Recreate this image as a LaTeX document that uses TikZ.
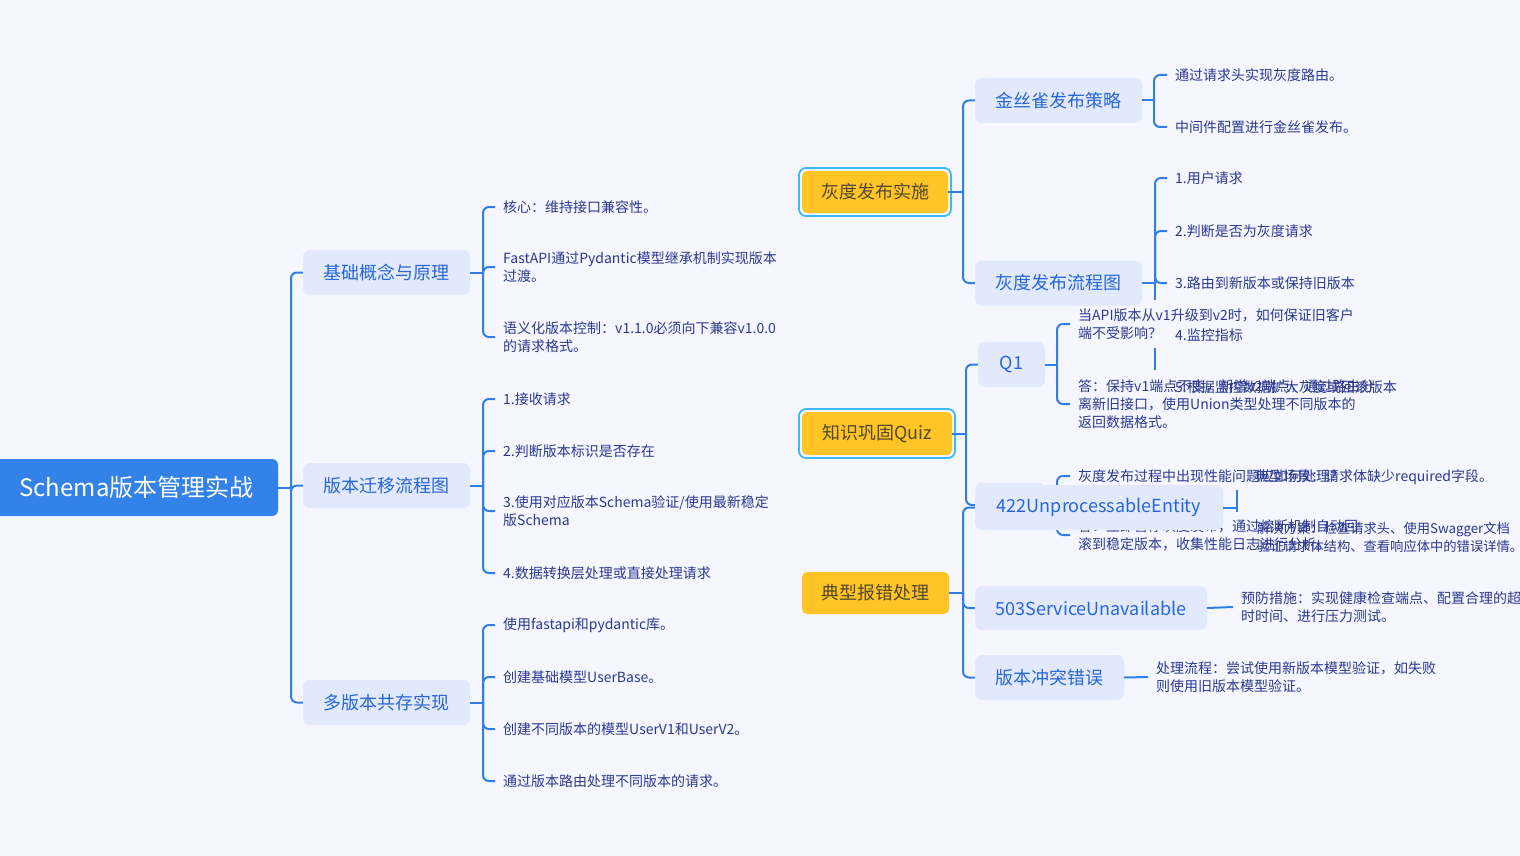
\documentclass[tikz,border=0pt]{standalone}
\usepackage{fontspec}
\setmainfont{Noto Sans CJK SC}
\definecolor{bg}{HTML}{F5F6FE}
\definecolor{conn}{HTML}{2F7FE8}
\definecolor{rootc}{HTML}{3282EA}
\definecolor{lone}{HTML}{E2E9FC}
\definecolor{lonetext}{HTML}{2766D6}
\definecolor{leaftext}{HTML}{2B3990}
\definecolor{yel}{HTML}{FFC527}
\definecolor{yeltext}{HTML}{54472B}
\definecolor{selc}{HTML}{3DBAF5}
\tikzset{
 line/.style={draw=conn, line width=2pt},
 bline/.style={line, rounded corners=6pt},
 rootbox/.style={fill=rootc, text=white, rounded corners=6pt, minimum width=283pt, minimum height=57pt, font=\fontsize{24}{28}\selectfont, inner sep=0pt},
 lbox/.style={fill=lone, text=lonetext, rounded corners=7pt, minimum height=45pt, inner sep=0pt, font=\fontsize{18}{22}\selectfont},
 ybox/.style={fill=yel, text=yeltext, rounded corners=5pt, minimum height=42pt, inner sep=0pt, font=\fontsize{18}{22}\selectfont},
 ring/.style={draw=selc, line width=1.8pt, rounded corners=7pt},
 leaf/.style={anchor=west, text=leaftext, font=\fontsize{14}{18}\selectfont, align=left, inner xsep=8pt, inner ysep=1pt},
}
\begin{document}
\begin{tikzpicture}[x=1pt,y=-1pt]
\useasboundingbox (0,0) rectangle (1520,856);
\clip (0,0) rectangle (1520,856);
\fill[bg] (0,0) rectangle (1520,856);

% ---------- left side ----------
\node[rootbox] (root) at (136.5,487.5) {Schema版本管理实战};
\node[lbox, minimum width=167pt] (a) at (386.5,272.5) {基础概念与原理};
\node[lbox, minimum width=167pt] (b) at (386.5,485.5) {版本迁移流程图};
\node[lbox, minimum width=167pt] (c) at (386.5,702.5) {多版本共存实现};
\coordinate (rb) at (291,487.5);
\draw[line] (root.east) -- (rb);
\foreach \n in {a,b,c} \draw[bline] (rb) |- (\n.west);

\node[leaf] (a1) at (495,207) {核心：维持接口兼容性。};
\node[leaf] (a2) at (495,267) {FastAPI通过Pydantic模型继承机制实现版本\\过渡。};
\node[leaf] (a3) at (495,337) {语义化版本控制：v1.1.0必须向下兼容v1.0.0\\的请求格式。};
\coordinate (ab) at (483,272.5);
\draw[line] (a.east) -- (ab);
\foreach \n in {a1,a2,a3} \draw[bline] (ab) |- (\n.west);

\node[leaf] (b1) at (495,399) {1.接收请求};
\node[leaf] (b2) at (495,451) {2.判断版本标识是否存在};
\node[leaf] (b3) at (495,511) {3.使用对应版本Schema验证/使用最新稳定\\版Schema};
\node[leaf] (b4) at (495,573) {4.数据转换层处理或直接处理请求};
\coordinate (bb) at (483,485.5);
\draw[line] (b.east) -- (bb);
\foreach \n in {b1,b2,b3,b4} \draw[bline] (bb) |- (\n.west);

\node[leaf] (c1) at (495,625) {使用fastapi和pydantic库。};
\node[leaf] (c2) at (495,677) {创建基础模型UserBase。};
\node[leaf] (c3) at (495,729) {创建不同版本的模型UserV1和UserV2。};
\node[leaf] (c4) at (495,781) {通过版本路由处理不同版本的请求。};
\coordinate (cb) at (483,702.5);
\draw[line] (c.east) -- (cb);
\foreach \n in {c1,c2,c3,c4} \draw[bline] (cb) |- (\n.west);

% ---------- 灰度发布实施 ----------
\node[ybox, minimum width=146pt] (g) at (875,192) {灰度发布实施};
\draw[ring] ([xshift=-2.8pt,yshift=2.8pt]g.north west) rectangle ([xshift=2.8pt,yshift=-2.8pt]g.south east);
\node[lbox, minimum width=167pt] (g1) at (1058.5,100.5) {金丝雀发布策略};
\node[lbox, minimum width=167pt] (g2) at (1058.5,283) {灰度发布流程图};
\coordinate (gb) at (963,192);
\draw[line] (g.east) -- (gb);
\foreach \n in {g1,g2} \draw[bline] (gb) |- (\n.west);

\node[leaf] (g11) at (1167,75) {通过请求头实现灰度路由。};
\node[leaf] (g12) at (1167,127) {中间件配置进行金丝雀发布。};
\coordinate (g1b) at (1154,100.5);
\draw[line] (g1.east) -- (g1b);
\foreach \n in {g11,g12} \draw[bline] (g1b) |- (\n.west);

\node[leaf] (g21) at (1167,178) {1.用户请求};
\node[leaf] (g22) at (1167,231) {2.判断是否为灰度请求};
\node[leaf] (g23) at (1167,283) {3.路由到新版本或保持旧版本};
\node[leaf] (g24) at (1167,335) {4.监控指标};
\node[leaf] (g25) at (1167,387) {5.根据监控数据扩大灰度或回滚版本};
\coordinate (g2b) at (1155,283);
\coordinate (g2e) at (1155,300);
\coordinate (g2m1) at (1155,348);
\coordinate (g2m2) at (1155,370);
\draw[line] (g2.east) -- (g2b);
\foreach \n in {g21,g22,g23} \draw[bline] (g2b) |- (\n.west);
\draw[line] (g2b) -- (g2e);
\draw[line] (g2m1) -- (g2m2);

% ---------- 知识巩固Quiz ----------
\node[ybox, minimum width=150pt, minimum height=43pt] (q) at (877,433.5) {知识巩固Quiz};
\draw[ring] ([xshift=-2.8pt,yshift=2.8pt]q.north west) rectangle ([xshift=2.8pt,yshift=-2.8pt]q.south east);
\node[lbox, minimum width=67pt] (q1) at (1011.5,364.5) {Q1};
\node[lbox, minimum width=70pt] (q2) at (1010,505) {};
\coordinate (qb) at (966,433.5);
\draw[line] (q.east) -- (qb);
\foreach \n in {q1,q2} \draw[bline] (qb) |- (\n.west);

\node[leaf] (q11) at (1070,324) {当API版本从v1升级到v2时，如何保证旧客户\\端不受影响？};
\node[leaf] (q12) at (1070,404) {答：保持v1端点不变，新增v2端点，通过路由分\\离新旧接口，使用Union类型处理不同版本的\\返回数据格式。};
\coordinate (q1b) at (1057,364.5);
\draw[line] (q1.east) -- (q1b);
\foreach \n in {q11,q12} \draw[bline] (q1b) |- (\n.west);

\node[leaf] (q21) at (1070,476) {灰度发布过程中出现性能问题应如何处理？};
\node[leaf] (q22) at (1070,535) {答：立即暂停灰度发布，通过熔断机制自动回\\滚到稳定版本，收集性能日志进行分析。};
\coordinate (q2b) at (1057,505);
\draw[line] (q2.east) -- (q2b);
\foreach \n in {q21,q22} \draw[bline] (q2b) |- (\n.west);

% ---------- 典型报错处理 ----------
\node[ybox, minimum width=147pt] (e) at (875.5,593) {典型报错处理};
\node[lbox, minimum width=248pt] (e1) at (1099,507.5) {422UnprocessableEntity};
\node[lbox, minimum width=232pt, minimum height=44pt] (e2) at (1091,608) {503ServiceUnavailable};
\node[lbox, minimum width=149pt] (e3) at (1049.5,677.5) {版本冲突错误};
\coordinate (eb) at (963,593);
\draw[line] (e.east) -- (eb);
\foreach \n in {e1,e2,e3} \draw[bline] (eb) |- (\n.west);

\node[leaf] (e11) at (1247,477) {典型场景：请求体缺少required字段。};
\node[leaf, font=\fontsize{13.3}{18}\selectfont] (e12) at (1249,537) {解决方案：检查请求头、使用Swagger文档\\验证请求体结构、查看响应体中的错误详情。};
\coordinate (e1b) at (1237,507.5);
\coordinate (e1t) at (1237,490);
\coordinate (e1d) at (1237,512);
\draw[line] (e1.east) -- (e1b);
\draw[line] (e1t) -- (e1d);

\node[leaf] (e21) at (1233,607) {预防措施：实现健康检查端点、配置合理的超\\时时间、进行压力测试。};
\draw[line] (e2.east) -- (e21.west);

\node[leaf] (e31) at (1148,677) {处理流程：尝试使用新版本模型验证，如失败\\则使用旧版本模型验证。};
\draw[line] (e3.east) -- (e31.west);
\end{tikzpicture}
\end{document}
